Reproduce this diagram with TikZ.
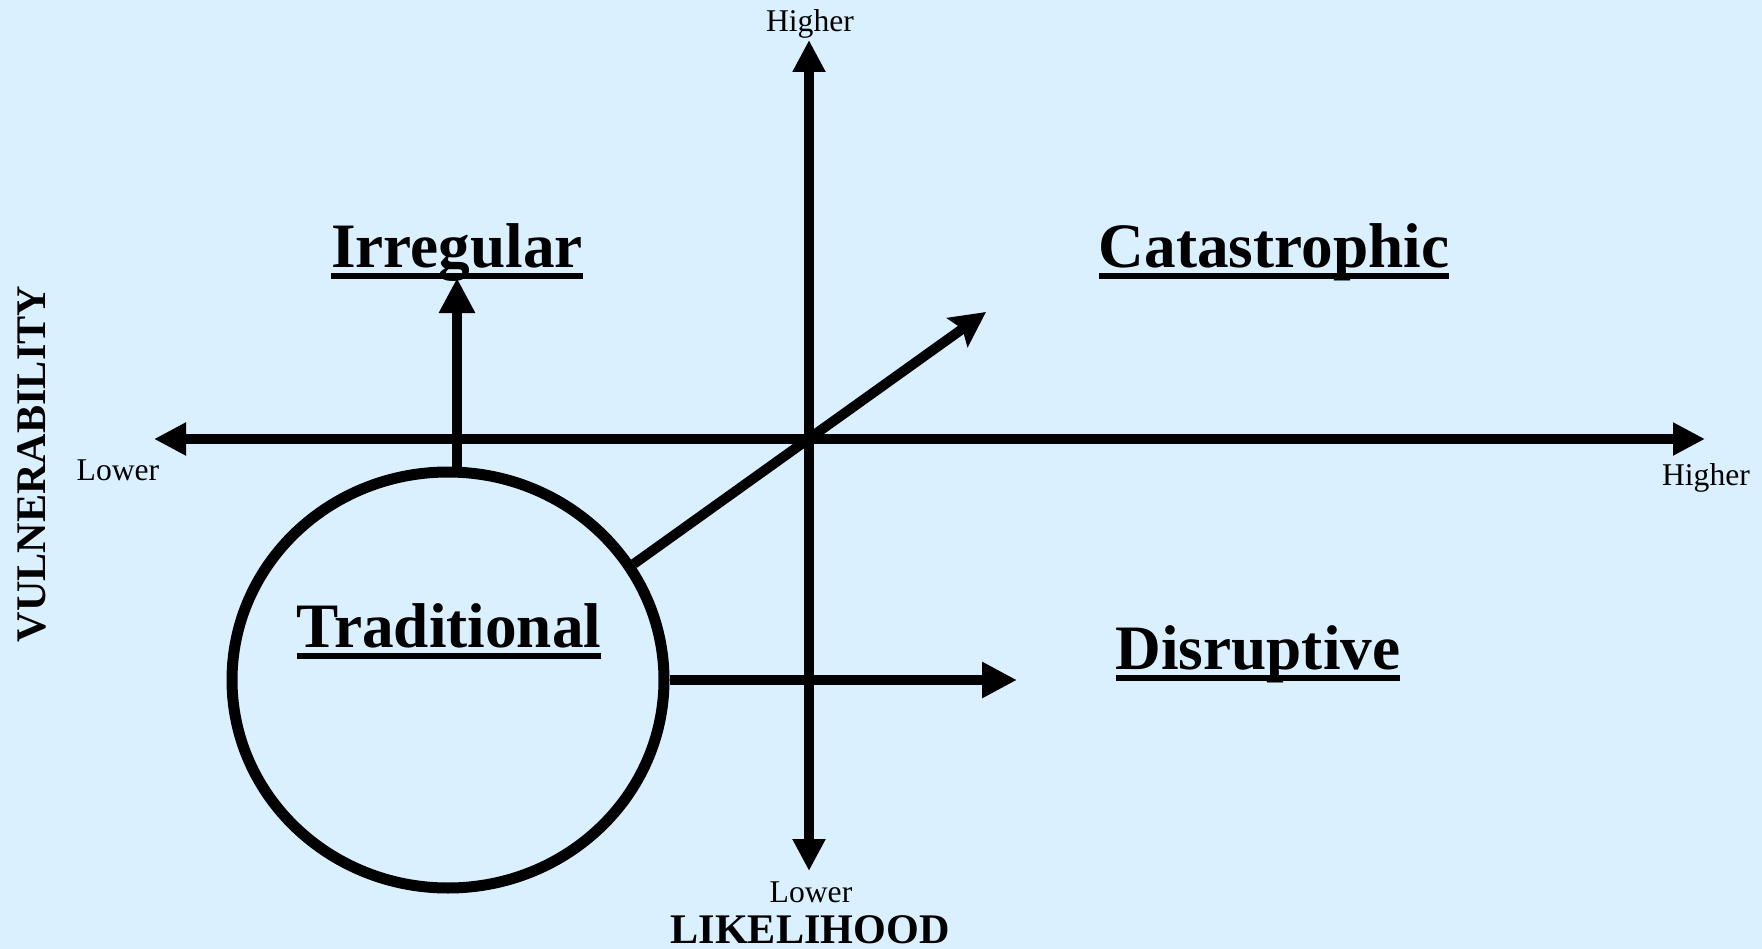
\documentclass[tikz,border=0pt]{standalone}
\usepackage{fontspec}
\setmainfont{Liberation Serif}
\usetikzlibrary{arrows.meta,positioning,shapes.geometric}
\definecolor{skybg}{RGB}{219,240,254}
\newsavebox{\ulinebox}
\newcommand{\ulined}[1]{\sbox{\ulinebox}{#1}\rlap{\rule[-3.3pt]{\wd\ulinebox}{1.7pt}}\usebox{\ulinebox}}

\begin{document}
\begin{tikzpicture}[
    x=0.1mm, y=-0.1mm,
    axis/.style={line width=1mm,{Triangle[length=3.2mm,width=3.1mm]}-{Triangle[length=3.2mm,width=3.1mm]}},
    arrow/.style={line width=1mm,-{Triangle[length=3.5mm,width=3.4mm]}},
    diag/.style={line width=1mm,-{Stealth[length=3.5mm,width=3.5mm,inset=0.6mm]}},
    tick/.style={inner sep=0pt,anchor=base,font=\fontsize{9}{11}\selectfont},
    title/.style={inner sep=0pt,font=\fontsize{12}{14}\selectfont\bfseries},
    kind/.style={inner sep=0pt,anchor=base,font=\fontsize{18}{22}\selectfont\bfseries},
    zone/.style={ellipse,draw,line width=1.1mm,inner sep=0pt,minimum width=4.32cm,minimum height=4.16cm}
  ]
  \fill[skybg] (0,0) rectangle (1762,949);
  \useasboundingbox (0,0) rectangle (1762,949);

  \coordinate (xl) at (154,439);
  \coordinate (xr) at (1705,439);
  \coordinate (yt) at (809,40);
  \coordinate (yb) at (809,871);
  \coordinate (irrtip) at (457,278);
  \coordinate (cattip) at (986,312);
  \coordinate (distip) at (1017,680);

  \draw[axis] (xl) -- (xr);
  \draw[axis] (yb) -- (yt);

  \node[tick] (highT) at (810,32) {Higher};
  \node[tick] (lowB) at (811,902) {Lower};
  \node[tick] (lowL) at (118,480) {Lower};
  \node[tick] (highR) at (1706,485) {Higher};
  \node[title,anchor=base] (likely) at (810,943) {LIKELIHOOD};
  \node[title,rotate=90] (vuln) at (32,464) {VULNERABILITY};

  \node[zone] (trad) at (448,680) {};
  \node[kind] (tradl) at (449,647) {\ulined{Traditional}};
  \node[kind] (irr) at (457,267) {\ulined{Irregular}};
  \node[kind] (cat) at (1274,267) {\ulined{Catastrophic}};
  \node[kind] (dis) at (1258,669) {\ulined{Disruptive}};

  \draw[arrow] (irrtip |- trad.north) -- (irrtip);
  \draw[diag] (trad.32) -- (cattip);
  \draw[arrow] (trad.east) -- (distip);
\end{tikzpicture}
\end{document}
